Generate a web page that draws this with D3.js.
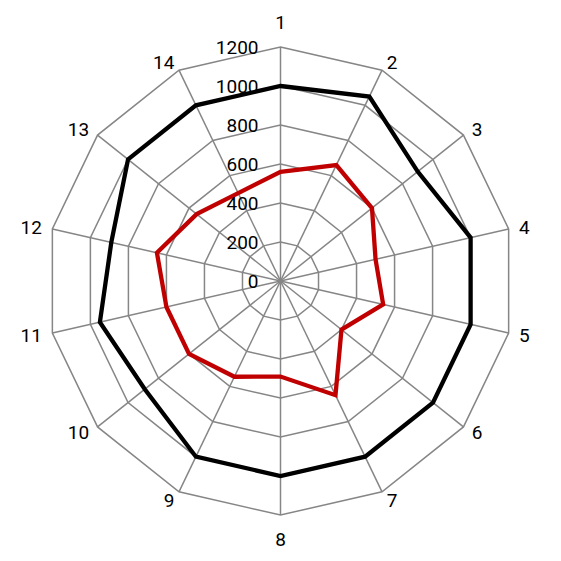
<!DOCTYPE html>
<html>
<head>
<meta charset="utf-8">
<script src="https://cdn.jsdelivr.net/npm/d3@7"></script>
<style>
  html, body { margin: 0; padding: 0; background: #fff; }
  text { font-family: Roboto, "Noto Sans", sans-serif; font-weight: 400; fill: #000; }
</style>
</head>
<body>
<div id="chart"></div>
<script>
// chart data
var categories = ['1', '2', '3', '4', '5', '6', '7', '8', '9', '10', '11', '12', '13', '14'];
var blackValues = [1000, 1050, 900, 1000, 1000, 1000, 1000, 1000, 1000, 890, 950, 890, 1000, 1000];
var redValues = [560, 660, 600, 500, 540, 400, 650, 490, 545, 600, 600, 650, 550, 500];
var tickValues = [0, 200, 400, 600, 800, 1000, 1200];

var width = 561;
var height = 561;
var cx = 280.5, cy = 281;
var fontSize = 19;

var svg = d3.select('#chart')
  .append('svg')
  .attr('width', width)
  .attr('height', height);

var g = svg.append('g').attr('transform', 'translate(' + cx + ',' + cy + ')');

var r = d3.scaleLinear()
  .domain([0, 1200]) // value range
  .range([0, 234]); // pixel radius

var angle = d3.scaleLinear()
  .domain([0, categories.length])
  .range([0, 2 * Math.PI]);

function px(i, v) { return Math.sin(angle(i)) * r(v); }
function py(i, v) { return -Math.cos(angle(i)) * r(v); }

// grid rings
var ring = d3.lineRadial()
  .angle(function(d, i) { return angle(i); })
  .radius(function(d) { return r(d); })
  .curve(d3.curveLinearClosed);

g.selectAll('.ring')
  .data(tickValues.slice(1))
  .enter()
  .append('path')
  .attr('class', 'ring')
  .attr('d', function(t) { return ring(categories.map(function() { return t; })); })
  .attr('fill', 'none')
  .attr('stroke', '#868686')
  .attr('stroke-width', 1.5);

// spokes
g.selectAll('.spoke')
  .data(categories)
  .enter()
  .append('line')
  .attr('class', 'spoke')
  .attr('x1', 0).attr('y1', 0)
  .attr('x2', function(d, i) { return px(i, 1200); })
  .attr('y2', function(d, i) { return py(i, 1200); })
  .attr('stroke', '#868686')
  .attr('stroke-width', 1.5);

// series
var series = d3.lineRadial()
  .angle(function(d, i) { return angle(i); })
  .radius(function(d) { return r(d); })
  .curve(d3.curveLinearClosed);

g.append('path')
  .attr('d', series(blackValues))
  .attr('fill', 'none')
  .attr('stroke', '#000')
  .attr('stroke-width', 4.3)
  .attr('stroke-linejoin', 'miter');

g.append('path')
  .attr('d', series(redValues))
  .attr('fill', 'none')
  .attr('stroke', '#c00000')
  .attr('stroke-width', 4.3)
  .attr('stroke-linejoin', 'miter');

// tick labels along axis 1
g.selectAll('.tick')
  .data(tickValues)
  .enter()
  .append('text')
  .attr('class', 'tick')
  .attr('x', -22)
  .attr('y', function(d) { return -r(d); })
  .attr('dy', '0.35em')
  .attr('text-anchor', 'end')
  .attr('font-size', fontSize)
  .text(function(d) { return d; });

// category labels
g.selectAll('.cat')
  .data(categories)
  .enter()
  .append('text')
  .attr('class', 'cat')
  .attr('font-size', fontSize)
  .attr('dy', '0.35em')
  .attr('text-anchor', function(d, i) {
    var s = Math.sin(angle(i));
    if (Math.abs(s) < 0.01) return 'middle';
    return s > 0 ? 'start' : 'end';
  })
  .attr('x', function(d, i) {
    var s = Math.sin(angle(i));
    if (Math.abs(s) < 0.01) return px(i, 1200);
    return px(i, 1200) + 10.7 * s;
  })
  .attr('y', function(d, i) {
    var s = Math.sin(angle(i)), c = Math.cos(angle(i));
    if (Math.abs(s) < 0.01) return py(i, 1200) - 24.5 * c;
    return py(i, 1200) - 9 * c;
  })
  .text(function(d) { return d; });
</script>
</body>
</html>
